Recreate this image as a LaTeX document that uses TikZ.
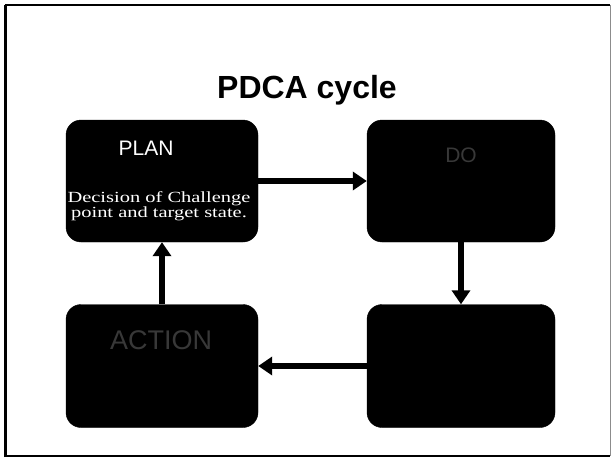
\documentclass[tikz,border=0pt]{standalone}
\usepackage{fontspec}
\setmainfont{Liberation Serif}
\newfontfamily\headfont{Liberation Sans}
\usetikzlibrary{arrows.meta}
\begin{document}
\begin{tikzpicture}[x=1pt,y=-1pt,
  stagebox/.style={fill=black,draw=black,rounded corners=15pt,inner sep=0pt},
  flow/.style={line width=5.5pt,-{Triangle[length=14pt,width=18pt]}},
  stagetitle/.style={text=white,font=\headfont\fontsize{21}{21}\selectfont,inner sep=0pt},
  faintlabel/.style={text=black!78,font=\headfont\fontsize{27}{27}\selectfont,inner sep=0pt},
  stagenote/.style={text=white,font=\fontsize{15.5}{15.5}\selectfont,inner sep=0pt,anchor=base}
]
\useasboundingbox (0,0) rectangle (613,460);
\fill[white] (0,0) rectangle (613,460);

% slide frame
\draw[line width=3pt] (5,457) -- (5,5);
\draw[line width=1.6pt] (5,5) -- (610,5);
\draw[line width=2pt] (5,456) -- (610,456);
\draw[line width=0.6pt,black!45] (610,5) -- (610,456);

% heading
\node[font=\headfont\bfseries\fontsize{32}{32}\selectfont,inner sep=0pt] (title) at (307,90) {PDCA cycle};

% the four stages
\node[stagebox,minimum width=192pt,minimum height=122pt] (plan) at (162,181) {};
\node[stagebox,minimum width=188pt,minimum height=122pt] (do) at (461,181) {};
\node[stagebox,minimum width=188pt,minimum height=123pt] (check) at (461,366) {};
\node[stagebox,minimum width=192pt,minimum height=123pt] (action) at (162,366) {};

% stage texts
\node[stagetitle] (plantxt) at (146,148) {PLAN};
\node[stagenote] (plannote1) at (159,202) {\scalebox{1.32}[1]{Decision of Challenge}};
\node[stagenote] (plannote2) at (159,217) {\scalebox{1.32}[1]{point and target state.}};
\node[faintlabel,font=\headfont\fontsize{21}{21}\selectfont] (dotxt) at (461,155) {DO};
\node[faintlabel] (actiontxt) at (161,340) {ACTION};

% cycle arrows
\draw[flow] (plan) -- (do);
\draw[flow] (do) -- (check);
\draw[flow] (check) -- (action);
\draw[flow] (action) -- (plan);
\end{tikzpicture}
\end{document}
